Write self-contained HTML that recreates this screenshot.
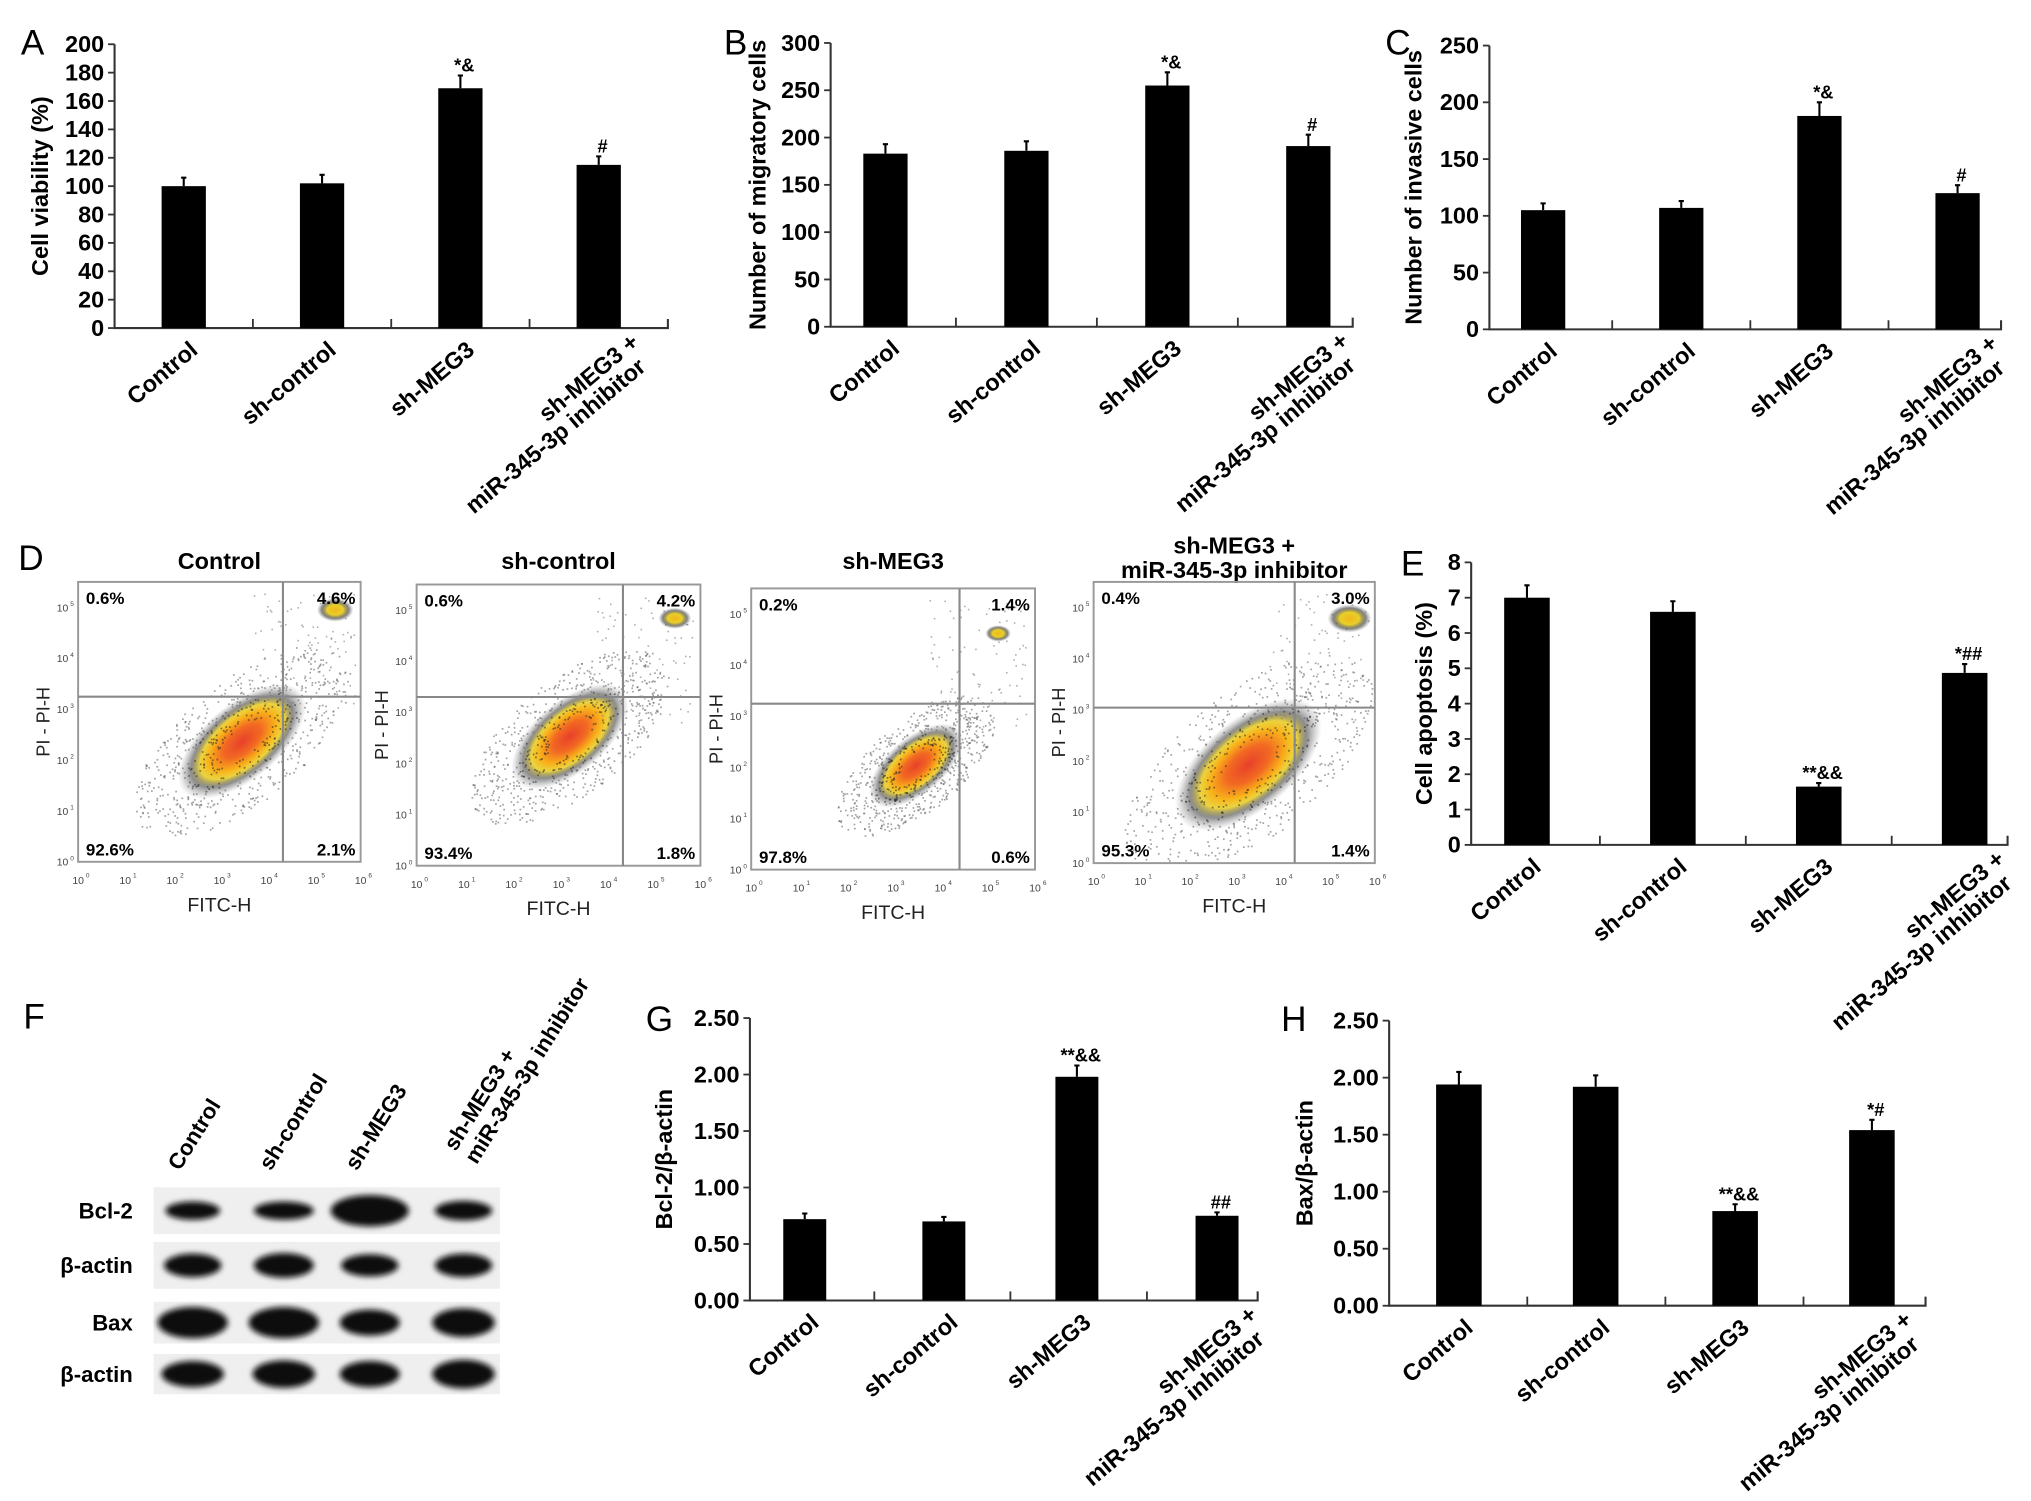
<!DOCTYPE html>
<html><head><meta charset="utf-8"><style>
html,body{margin:0;padding:0;background:#fff;}
svg{display:block;}
text{font-family:"Liberation Sans Narrow","Liberation Sans",sans-serif;}
</style></head><body>
<svg id="fig" xmlns="http://www.w3.org/2000/svg" width="2031" height="1501" viewBox="0 0 1560 1153" preserveAspectRatio="none">
<defs>
<radialGradient id="blob" cx="50%" cy="50%" r="50%">
<stop offset="0%" stop-color="#e8402a"/>
<stop offset="30%" stop-color="#f26a22"/>
<stop offset="52%" stop-color="#f9b21a"/>
<stop offset="66%" stop-color="#e9cf2a" stop-opacity="0.9"/>
<stop offset="80%" stop-color="#333" stop-opacity="0.55"/>
<stop offset="100%" stop-color="#777" stop-opacity="0"/>
</radialGradient>
<radialGradient id="blob2" cx="50%" cy="50%" r="50%">
<stop offset="0%" stop-color="#f2b81a"/>
<stop offset="45%" stop-color="#e8cf2a"/>
<stop offset="75%" stop-color="#333" stop-opacity="0.6"/>
<stop offset="100%" stop-color="#666" stop-opacity="0"/>
</radialGradient>
<filter id="blur" x="-20%" y="-50%" width="140%" height="200%"><feGaussianBlur stdDeviation="2.2"/></filter>
</defs>
</svg>
<script>
// ---------- Bar chart data ----------
const groups = ["Control", "sh-control", "sh-MEG3", "sh-MEG3 +|miR-345-3p inhibitor"];
const valsA = [100, 102, 169, 115];
const errsA = [6, 6, 9, 6];
const annA = ["", "", "*&", "#"];
const valsB = [183, 186, 255, 191];
const errsB = [10, 10, 14, 12];
const annB = ["", "", "*&", "#"];
const valsC = [105, 107, 188, 120];
const errsC = [6, 6, 12, 7];
const annC = ["", "", "*&", "#"];
const valsE = [7.0, 6.6, 1.65, 4.87];
const errsE = [0.35, 0.3, 0.1, 0.25];
const annE = ["", "", "**&&", "*##"];
const valsG = [0.72, 0.70, 1.98, 0.75];
const errsG = [0.05, 0.04, 0.1, 0.03];
const annG = ["", "", "**&&", "##"];
const valsH = [1.94, 1.92, 0.83, 1.54];
const errsH = [0.11, 0.1, 0.06, 0.09];
const annH = ["", "", "**&&", "*#"];
// ---------- Flow data ----------
const flowTitles = ["Control", "sh-control", "sh-MEG3", "sh-MEG3 +|miR-345-3p inhibitor"];
const flowUL = ["0.6%", "0.6%", "0.2%", "0.4%"];
const flowUR = ["4.6%", "4.2%", "1.4%", "3.0%"];
const flowLL = ["92.6%", "93.4%", "97.8%", "95.3%"];
const flowLR = ["2.1%", "1.8%", "0.6%", "1.4%"];

const NS = "http://www.w3.org/2000/svg";
const svg = document.getElementById("fig");
function mk(tag, attrs, parent, txt) {
  const e = document.createElementNS(NS, tag);
  for (const k in attrs) e.setAttribute(k, attrs[k]);
  if (txt !== undefined) e.textContent = txt;
  (parent || svg).appendChild(e);
  return e;
}

function barChart(id, cfg, vals, errs, anns) {
  const g = mk("g", {});
  
  
  const yS = v => cfg.y0 - (v / cfg.max) * (cfg.y0 - cfg.yTop);
  const xS = f => cfg.x0 + f * (cfg.x1 - cfg.x0);
  const letter = mk("text", {x: cfg.lx, y: cfg.ly, "font-size": 27, "font-family": "Liberation Sans, sans-serif"}, g, id);
  
  
  const axis = mk("path", {d: `M${cfg.x0},${cfg.yTop} V${cfg.y0} H${cfg.x1} v-7`, stroke: "#333", "stroke-width": 1.6, fill: "none"}, g);
  
  
  for (let v = 0; v <= cfg.max + 1e-9; v += cfg.step) {
    const y = yS(v);
    mk("line", {x1: cfg.x0 - 5, x2: cfg.x0, y1: y, y2: y, stroke: "#333", "stroke-width": 1.4}, g);
    const t = mk("text", {x: cfg.x0 - 8, y: y + 6, "text-anchor": "end", "font-size": 18, "font-weight": "bold"}, g, v.toFixed(cfg.dec));
    
    
  }
  const yl = mk("text", {transform: `translate(${cfg.ylx},${(cfg.yTop + cfg.y0) / 2}) rotate(-90)`, "text-anchor": "middle", "font-size": 18, "font-weight": "bold", "font-family": "Liberation Sans, sans-serif"}, g, cfg.ylabel);
  
  
  const bw = cfg.bw;
  for (let i = 0; i < vals.length; i++) {
    const cx = xS(cfg.fr[i]);
    if (i < vals.length - 1) {
      const bx = xS((cfg.fr[i] + cfg.fr[i + 1]) / 2);
      mk("line", {x1: bx, x2: bx, y1: cfg.y0, y2: cfg.y0 - 7, stroke: "#333", "stroke-width": 1.4}, g);
    }
    const top = yS(vals[i]);
    const r = mk("rect", {x: cx - bw / 2, y: top, width: bw, height: cfg.y0 - top, fill: "#000"}, g);
    
    
    const et = yS(vals[i] + errs[i]);
    const eb = mk("path", {d: `M${cx},${top} V${et} M${cx - 2},${et} H${cx + 2}`, stroke: "#000", "stroke-width": 1.6}, g);
    
    
    if (anns[i]) {
      const a = mk("text", {x: cx + 3, y: et - 3, "text-anchor": "middle", "font-size": 14, "font-weight": "bold"}, g, anns[i]);
      
      
    }
    const lines = groups[i].split("|");
    const multi = lines.length > 1;
    const lt = mk("text", {transform: `translate(${cx + (multi ? 28 : 8)},${cfg.y0 + (multi ? 8 : 14)}) rotate(-40)`, "text-anchor": "end", "font-size": 18, "font-weight": "bold", "font-family": "Liberation Sans, sans-serif"}, g);
    
    
    lines.forEach((ln, k) => {
      mk("tspan", {x: -k * 8, y: k * 18 + 6}, lt, ln);
    });
  }
}

barChart("A", {x0: 88, x1: 513, yTop: 34, y0: 252, max: 200, step: 20, dec: 0, fr: [.125, .375, .625, .875], bw: 34, lx: 16, ly: 42, ylx: 37, ylabel: "Cell viability (%)"}, valsA, errsA, annA);
barChart("B", {x0: 638, x1: 1039, yTop: 33, y0: 251, max: 300, step: 50, dec: 0, fr: [.105, .375, .645, .915], bw: 34, lx: 556, ly: 42, ylx: 588, ylabel: "Number of migratory cells"}, valsB, errsB, annB);
barChart("C", {x0: 1144, x1: 1537, yTop: 35, y0: 253, max: 250, step: 50, dec: 0, fr: [.105, .375, .645, .915], bw: 34, lx: 1064, ly: 42, ylx: 1092, ylabel: "Number of invasive cells"}, valsC, errsC, annC);
barChart("E", {x0: 1130, x1: 1542, yTop: 432, y0: 649, max: 8, step: 1, dec: 0, fr: [.104, .376, .648, .92], bw: 35, lx: 1076, ly: 442, ylx: 1100, ylabel: "Cell apoptosis (%)"}, valsE, errsE, annE);
barChart("G", {x0: 576, x1: 966, yTop: 782, y0: 999, max: 2.5, step: 0.5, dec: 2, fr: [.108, .382, .644, .92], bw: 33, lx: 496, ly: 792, ylx: 516, ylabel: "Bcl-2/β-actin"}, valsG, errsG, annG);
barChart("H", {x0: 1067, x1: 1479, yTop: 784, y0: 1003, max: 2.5, step: 0.5, dec: 2, fr: [.13, .385, .645, .9], bw: 35, lx: 984, ly: 792, ylx: 1008, ylabel: "Bax/β-actin"}, valsH, errsH, annH);

// ---------- Flow cytometry panels ----------
const dl = mk("text", {x: 14, y: 438, "font-size": 27, "font-family": "Liberation Sans, sans-serif"}, svg, "D");


const flowBoxes = [[60, 447, 277, 662], [320, 449, 538, 665], [577, 452, 795, 668], [840, 447, 1056, 663]];
const flowQuad = [[0.725, 0.41], [0.727, 0.4], [0.734, 0.41], [0.715, 0.447]];
const blobs = [[0.58, 0.57, 44, 20, 1], [0.54, 0.54, 40, 19, 1], [0.58, 0.63, 32, 15, 0.8], [0.55, 0.65, 50, 24, 1]];
const clusters = [[0.91, 0.1, 10], [0.91, 0.12, 9], [0.87, 0.16, 7], [0.91, 0.13, 12]];
let seed = 12345;
function rnd() { seed = (seed * 1103515245 + 12345) % 2147483648; return seed / 2147483648; }
for (let p = 0; p < 4; p++) {
  const [bx0, by0, bx1, by1] = flowBoxes[p];
  const w = bx1 - bx0, h = by1 - by0;
  const g = mk("g", {});
  
  
  const tl = flowTitles[p].split("|");
  const tt = mk("text", {x: (bx0 + bx1) / 2, y: tl.length > 1 ? 425 : 437, "text-anchor": "middle", "font-size": 18, "font-weight": "bold"}, g);
  
  
  tl.forEach((ln, k) => mk("tspan", {x: (bx0 + bx1) / 2, dy: k ? 19 : 0}, tt, ln));
  const [fx, fy, rx, ry, sc] = blobs[p];
  const cx = bx0 + fx * w, cy = by0 + fy * h;
  const bl = mk("ellipse", {cx: cx, cy: cy, rx: rx * 1.35, ry: ry * 1.45, fill: "url(#blob)", transform: `rotate(-40 ${cx} ${cy})`}, g);
  
  
  // scatter speckle (decorative)
  for (let k = 0; k < 700; k++) {
    const a = rnd() * 6.283, r = Math.pow(rnd(), 0.7) * 1.8 + 0.5;
    const lx = Math.cos(a) * rx * r, ly = Math.sin(a) * ry * r;
    const x = cx + lx * 0.77 + ly * 0.64, y = cy - lx * 0.64 + ly * 0.77;
    if (x > bx0 + 2 && x < bx1 - 2 && y > by0 + 2 && y < by1 - 2)
      mk("rect", {x: x, y: y, width: 1.3, height: 1.3, fill: r < 1.2 ? "#222" : "#666", opacity: r < 1.2 ? 0.55 : 0.6}, g);
  }
  const [ux, uy, ur] = clusters[p];
  for (let k = 0; k < 90; k++) {
    const x = bx0 + (0.62 + rnd() * 0.36) * w, y = by0 + (0.04 + rnd() * 0.45) * h;
    mk("rect", {x: x, y: y, width: 1.2, height: 1.2, fill: "#777", opacity: 0.6}, g);
  }
  mk("ellipse", {cx: bx0 + ux * w, cy: by0 + uy * h, rx: ur * 1.4, ry: ur * 0.9, fill: "url(#blob2)"}, g);
  const box = mk("rect", {x: bx0, y: by0, width: w, height: h, fill: "none", stroke: "#999", "stroke-width": 1.5}, g);
  
  
  const [qv, qh] = flowQuad[p];
  mk("line", {x1: bx0 + qv * w, x2: bx0 + qv * w, y1: by0, y2: by1, stroke: "#888", "stroke-width": 1.6}, g);
  mk("line", {x1: bx0, x2: bx1, y1: by0 + qh * h, y2: by0 + qh * h, stroke: "#888", "stroke-width": 1.6}, g);
  const qs = [[flowUL[p], bx0 + 6, by0 + 17, "start"], [flowUR[p], bx1 - 4, by0 + 17, "end"], [flowLL[p], bx0 + 6, by1 - 5, "start"], [flowLR[p], bx1 - 4, by1 - 5, "end"]];
  qs.forEach(q => {
    const t = mk("text", {x: q[1], y: q[2], "text-anchor": q[3], "font-size": 13, "font-weight": "bold", "font-family": "DejaVu Sans, sans-serif"}, g, q[0]);
    
    
  });
  for (let k = 0; k <= 6; k++) {
    const x = bx0 + k * w / 6;
    mk("text", {x: x, y: by1 + 17, "text-anchor": "middle", "font-size": 8, fill: "#444"}, g, "10");
    mk("text", {x: x + 6, y: by1 + 12, "font-size": 5, fill: "#444"}, g, String(k));
  }
  for (let k = 0; k <= 5; k++) {
    const y = by1 - k * h / 5.5;
    mk("text", {x: bx0 - 12, y: y + 3, "text-anchor": "middle", "font-size": 8, fill: "#444"}, g, "10");
    mk("text", {x: bx0 - 6, y: y - 1, "font-size": 5, fill: "#444"}, g, String(k));
  }
  const xt = mk("text", {x: (bx0 + bx1) / 2, y: by1 + 38, "text-anchor": "middle", "font-size": 15, fill: "#222"}, g, "FITC-H");
  
  
  const yt = mk("text", {transform: `translate(${bx0 - 22},${by0 + h * 0.5}) rotate(-90)`, "text-anchor": "middle", "font-size": 14, fill: "#222"}, g, "PI - PI-H");
  
  
}

// ---------- Western blot F ----------
const fl = mk("text", {x: 18, y: 790, "font-size": 27, "font-family": "Liberation Sans, sans-serif"}, svg, "F");


const blotRows = ["Bcl-2", "β-actin", "Bax", "β-actin"];
const rowY = [[912, 948], [954, 990], [1000, 1032], [1040, 1071]];
const laneX = [148, 218, 284, 356];
const bandW = [[42, 46, 60, 44], [44, 46, 44, 44], [54, 54, 46, 48], [48, 48, 46, 48]];
const bandH2 = [[14, 14, 24, 15], [18, 19, 17, 18], [24, 24, 20, 22], [20, 21, 20, 22]];
const fg = mk("g", {});


rowY.forEach((ry, r) => {
  mk("rect", {x: 118, y: ry[0], width: 266, height: ry[1] - ry[0], fill: "#efefef"}, fg);
  const lt = mk("text", {x: 102, y: (ry[0] + ry[1]) / 2 + 6, "text-anchor": "end", "font-size": 17, "font-weight": "bold"}, fg, blotRows[r]);
  
  
  laneX.forEach((lx, c) => {
    const b = mk("ellipse", {cx: lx, cy: (ry[0] + ry[1]) / 2, rx: bandW[r][c] / 2, ry: bandH2[r][c] / 2, fill: "#0a0a0a", filter: "url(#blur)"}, fg);
    
    
  });
});
laneX.forEach((lx, c) => {
  const lines = groups[c].split("|");
  const t = mk("text", {transform: `translate(${lx - 10 + 12 * (lines.length - 1)},${900 - 10 * (lines.length - 1)}) rotate(-58)`, "font-size": 17, "font-weight": "bold", "font-family": "Liberation Sans, sans-serif"}, fg);
  
  
  lines.forEach((ln, k) => mk("tspan", {x: 0, y: (k - (lines.length - 1) / 2) * 19}, t, ln));
});
</script>
</body></html>
